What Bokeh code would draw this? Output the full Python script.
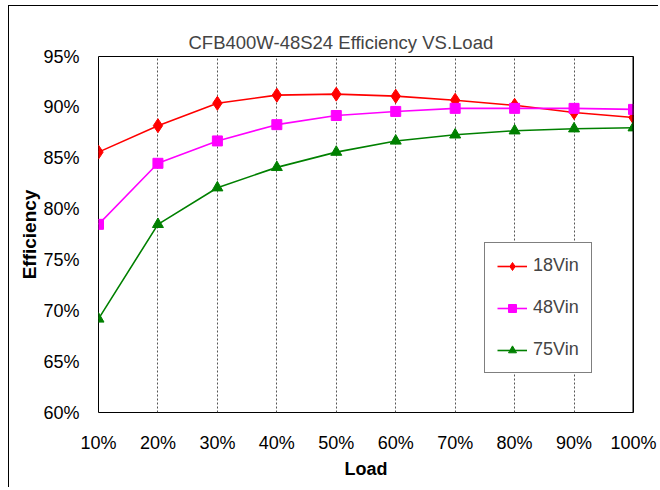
from bokeh.plotting import figure
from bokeh.models import Range1d, FixedTicker, NumeralTickFormatter, Span, Legend, LegendItem
from bokeh.embed import file_html
from bokeh.resources import INLINE

loads = [0.1, 0.2, 0.3, 0.4, 0.5, 0.6, 0.7, 0.8, 0.9, 1.0]
eff_18vin = [0.856, 0.882, 0.904, 0.912, 0.913, 0.911, 0.907, 0.902, 0.895, 0.890]
eff_48vin = [0.785, 0.845, 0.867, 0.883, 0.892, 0.896, 0.899, 0.899, 0.899, 0.898]
eff_75vin = [0.692, 0.785, 0.821, 0.841, 0.856, 0.867, 0.873, 0.877, 0.879, 0.880]
y_ticks = [0.60, 0.65, 0.70, 0.75, 0.80, 0.85, 0.90, 0.95]
title_text = "CFB400W-48S24 Efficiency VS.Load"

FONT = "Liberation Sans"

p = figure(width=650, height=482, output_backend="svg", toolbar_location=None,
           x_range=Range1d(0.1, 1.0), y_range=Range1d(0.60, 0.95),
           min_border_left=89, min_border_right=26, min_border_top=50, min_border_bottom=76,
           title=title_text)

p.margin = (5, 0, 0, 8)
p.styles = {"border-top": "1px solid black", "border-left": "1px solid black"}

p.title.text_font = FONT
p.title.text_font_size = "18.5px"
p.title.text_font_style = "normal"
p.title.align = "left"
p.title.offset = 90
p.title.standoff = 8

p.outline_line_color = "black"
p.outline_line_width = 1
p.outline_line_alpha = 1

p.xaxis.ticker = FixedTicker(ticks=loads)
p.yaxis.ticker = FixedTicker(ticks=y_ticks)
p.xaxis.formatter = NumeralTickFormatter(format="0%")
p.yaxis.formatter = NumeralTickFormatter(format="0%")
for ax in (p.xaxis, p.yaxis):
    ax.axis_line_color = None
    ax.major_tick_line_color = None
    ax.minor_tick_line_color = None
    ax.major_tick_out = 0
    ax.major_tick_in = 0
    ax.major_label_text_font = FONT
    ax.major_label_text_font_size = "18px"
    ax.major_label_text_color = "black"
    ax.axis_label_text_font = FONT
    ax.axis_label_text_font_style = "bold"
    ax.axis_label_text_color = "black"
p.yaxis.major_label_standoff = 19
p.xaxis.major_label_standoff = 20
p.xaxis.axis_label = "Load"
p.yaxis.axis_label = "Efficiency"
p.xaxis.axis_label_text_font_size = "18px"
p.yaxis.axis_label_text_font_size = "19px"
p.xaxis.axis_label_standoff = 3
p.yaxis.axis_label_standoff = 0

p.ygrid.grid_line_color = None
p.xgrid.grid_line_color = "#555555"
p.xgrid.grid_line_dash = "2 2"
p.xgrid.grid_line_width = 1

p.add_layout(Span(location=1.0, dimension="height", line_color="black", line_width=2))

l1 = p.line(loads, eff_18vin, line_color="#FF0000", line_width=1.6)
m1 = p.scatter(loads, eff_18vin, marker="diamond", size=14, fill_color="#FF0000", line_color="#FF0000")
l2 = p.line(loads, eff_48vin, line_color="#FF00FF", line_width=1.6)
m2 = p.scatter(loads, eff_48vin, marker="square", size=10, fill_color="#FF00FF", line_color="#FF00FF")
l3 = p.line(loads, eff_75vin, line_color="#008000", line_width=1.6)
m3 = p.scatter(loads, eff_75vin, marker="triangle", size=11, fill_color="#008000", line_color="#008000")

legend = Legend(items=[LegendItem(label="18Vin", renderers=[l1, m1]),
                       LegendItem(label="48Vin", renderers=[l2, m2]),
                       LegendItem(label="75Vin", renderers=[l3, m3])],
                location=(386, 39), padding=12, spacing=21, glyph_height=20, glyph_width=30,
                label_height=20, label_standoff=6,
                label_text_font=FONT, label_text_font_size="18px",
                border_line_color="black", border_line_width=1,
                background_fill_color="white", background_fill_alpha=1)
p.add_layout(legend, "center")

open("out.html", "w").write(file_html(p, INLINE))
